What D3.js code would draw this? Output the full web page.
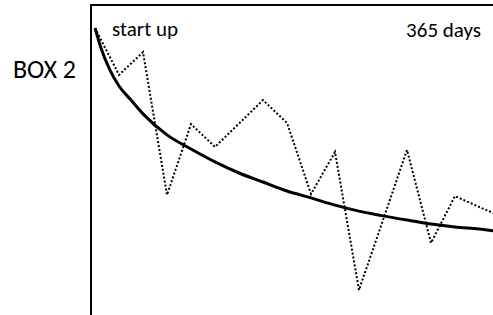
<!DOCTYPE html>
<html>
<head>
<meta charset="utf-8">
<script src="https://cdn.jsdelivr.net/npm/d3@7"></script>
<style>
  body { margin: 0; background: white; }
  text { font-family: Carlito, Calibri, Lato, sans-serif; fill: #000; }
</style>
</head>
<body>
<svg id="chart" width="493" height="315"></svg>
<script>
// period index along the year, one step per observation
const periods = [0, 1, 2, 3, 4, 5, 6, 7, 8, 9, 10, 11, 12, 13, 14, 15, 16, 17];
// observed level (dotted)
const observed = [92.3, 76.7, 84.3, 36.7, 60.3, 52.7, 60.5, 68.3, 60.7, 37, 51, 5, 28.3, 51.7, 20.7, 36.3, 32.7, 29.3];
// trend (solid), sampled along the curve
const trendX = [0, 0.25, 0.6, 1, 1.5, 2, 3, 4, 5, 6, 7, 8, 9, 10, 11, 12, 13, 14, 15, 16, 17];
const trendY = [92.3, 85.7, 78.7, 73, 68.3, 63.7, 56.7, 52, 47.7, 44, 41, 38, 35.7, 33.3, 31.3, 29.7, 28.3, 27, 26, 25.3, 24.3];
const boxLabel = "BOX 2";
const startLabel = "start up";
const endLabel = "365 days";

const svg = d3.select("#chart");

const x = d3.scaleLinear().domain([0, 16]).range([95, 479]);
const y = d3.scaleLinear().domain([0, 100]).range([305, 5]);

// frame: top and left edges (box runs off the page right and bottom)
svg.append("path")
    .attr("d", "M91,320 L91,5 L500,5")
    .attr("fill", "none")
    .attr("stroke", "#000")
    .attr("stroke-width", 2);

const obsLine = d3.line()
    .x((d, i) => x(periods[i]))
    .y(d => y(d));

svg.append("path")
    .datum(observed)
    .attr("d", obsLine)
    .attr("fill", "none")
    .attr("stroke", "#000")
    .attr("stroke-width", 2)
    .attr("stroke-dasharray", "2,2");

const trendLine = d3.line()
    .x((d, i) => x(trendX[i]))
    .y(d => y(d))
    .curve(d3.curveMonotoneX);

svg.append("path")
    .datum(trendY)
    .attr("d", trendLine)
    .attr("fill", "none")
    .attr("stroke", "#000")
    .attr("stroke-width", 3);

svg.append("text")
    .attr("x", 112).attr("y", 36)
    .style("font-size", "21px")
    .text(startLabel);

svg.append("text")
    .attr("x", 481).attr("y", 37)
    .attr("text-anchor", "end")
    .style("font-size", "21px")
    .text(endLabel);

svg.append("text")
    .attr("x", 76).attr("y", 78)
    .attr("text-anchor", "end")
    .style("font-size", "26px")
    .text(boxLabel);
</script>
</body>
</html>
